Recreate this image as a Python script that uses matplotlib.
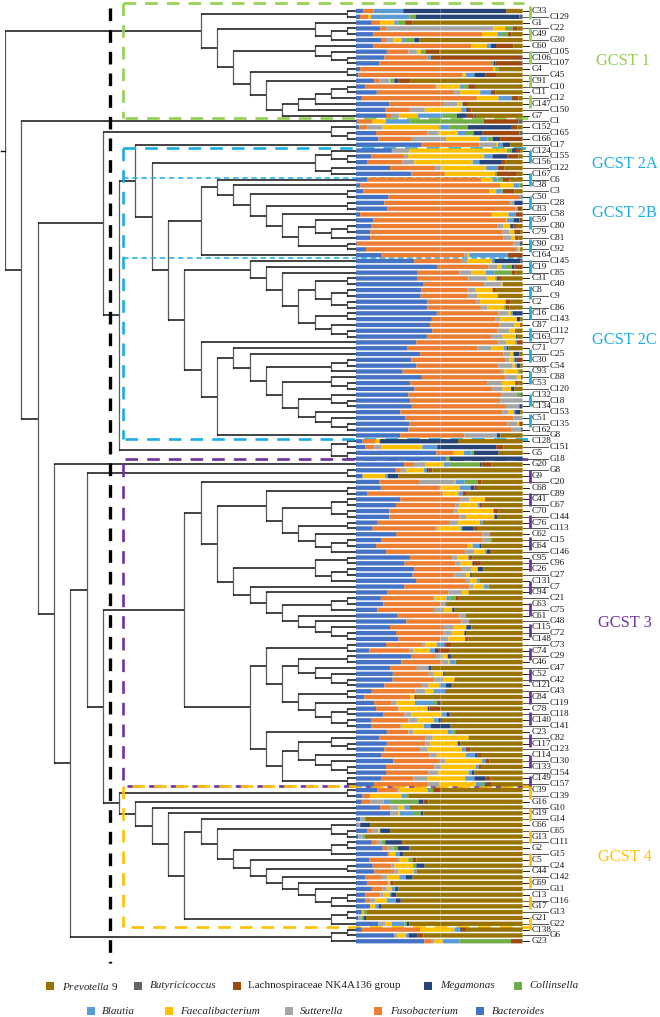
import numpy as np
import matplotlib
matplotlib.use('Agg')
import matplotlib.pyplot as plt

plt.rcParams['font.family'] = ['Liberation Serif', 'DejaVu Serif']
plt.rcParams['mathtext.fontset'] = 'custom'
plt.rcParams['mathtext.rm'] = 'Liberation Serif'
plt.rcParams['mathtext.it'] = 'Liberation Serif:italic'
plt.rcParams['lines.scale_dashes'] = False

taxa = ['Bacteroides', 'Fusobacterium', 'Sutterella', 'Faecalibacterium', 'Blautia',
        'Collinsella', 'Megamonas', 'Lachnospiraceae NK4A136 group', 'Butyricicoccus', 'Prevotella 9']
colors = ['#4472C4', '#ED7D31', '#A5A5A5', '#FFC000', '#5B9BD5',
          '#70AD47', '#264478', '#9E480E', '#636363', '#997300']

labels = """C33 C129 G1 C22 C49 G30 C60 C105 C106 C107 C4 C45 C91 C10 C11 C12 C147 C150 G7 C1 C152 C165 C166 C17
C124 C155 C156 C122 C167 C6 C38 C3 C50 C28 C83 C58 C59 C80 C79 C81 C90 C92 C164 C145 C19 C85 C31 C40 C8 C9 C2 C86
C16 C143 C87 C112 C163 C77 C71 C25 C30 C54 C93 C88 C53 C120 C132 C18 C134 C153 C51 C135 C162 G8 C128 C151 G5 G18
G20 G8 G9 C20 C68 C89 C41 C67 C70 C144 C76 C113 C62 C15 C64 C146 C95 C96 C26 C27 C131 C7 C94 C21 C63 C75 C61 C48
C115 C72 C148 C73 C74 C29 C46 C47 C52 C42 C121 C43 C84 C119 C78 C118 C140 C141 C23 C82 C117 C123 C114 C130 C133
C154 C149 C157 C39 C139 G16 G10 G19 G14 C66 C65 G13 C111 G2 G15 C5 C24 C44 C142 C69 G11 C13 C116 G17 G13 G21 G22
C138 G6 G23""".split()

# Columns follow the taxa list, top row to bottom row
rows_gcst1 = [
 [4.5,6,0,0,18,0,62,0,0,10],[2.4,5,0,1.6,23,3.6,62,0,2,0],[9.5,5,0,8.5,2,4.5,0,4.5,0,66],
 [14.5,3.5,64,7,0,4.5,0,3,0,3],[10.5,65.5,0,9.5,2,4,0,2,0,7],[15,3,4.5,5,2.5,5,3,0,0,62],
 [10.5,58.5,0,9.5,2.5,0,3,10.5,0,5.5],[18.5,13,5,2.5,0,3,0,8,0,50],[17,26,0,0,2,0,0,54,1,0],
 [14,67,0,0,0,1.5,1,16,.5,0],[2.5,80,0,1,0,2,0,0,0,14.5],[1.5,62.5,0,2,5,0,6.5,7,0,15.5],
 [11,3,6,.5,0,2.5,2.5,7,0,67.5],[5.5,42,1,13.5,2.5,2.5,0,4,0,28.5],[12.5,46.5,3.5,12,6.5,0,0,2.5,0,16.5],
 [3.5,69,0,13,8,0,0,4,0,2.5],[20,33,8,3,.5,0,0,3,0,33],[17.5,14.5,9.5,22,3,0,1,2,0,31],
 [18,3,5,11,15,8.5,6,4,1.5,28]]
rows_between1 = [
 [1,9,0,8,14.5,44,0,21,2.5,0],[2,5,9,34,6,11,26,4,0,3],[12,31,6.5,11.5,5,4.5,5.5,22,2,0],
 [13.5,19.5,21,20,5,3,4.5,12.5,1,0],[39,35,10,1,3,0,4.5,0,0,7.5]]
rows_gcst2a = [
 [21.5,0,10.5,58.5,0,3,2.5,2.5,0,1.5],[9,20,2,45.5,5,0,9,6.5,0,2.5],[7,21,7,35,4,0,13,2.5,0,10.5],
 [20.5,27,4,27,7,0,0,4,0,11],[33,20,0,30,0,1,0,12,0,3.5]]
rows_gcst2b = [
 [7,68,0,7,3,3,0,4,0,8],[2.5,84,0,8,3.5,1,0,0,0,1],[4.5,76,0,4,3,1,0,7,0,5],
 [19.5,79,0,0,1,0,0,0,.5,0],[17,75.5,2.5,0,0,0,5,0,0,0],[19,76.5,1.5,0,0,0,0,2.5,0,.5],
 [2.5,79,0,10,4.5,0,0,4,0,0],[10.5,79.5,0,.5,4,0,3.5,2,0,0],[9,76,3.5,4,0,0,2,2,0,3.5],
 [8.5,79.5,4,3,0,0,0,3.5,0,1.5],[8.5,80,4.5,2.5,0,0,0,2,0,2.5],[.5,94,4,0,0,0,1,.5,0,0],
 [6,90,1.5,1,0,0,0,0,0,1.5],[15,50,2,1,23,0,0,9,0,0]]
rows_gcst2c = [
 [35,28.5,3.5,14.5,1.5,0,15.5,0,1.5,0],[49,30.5,5.5,2.5,2,4,1.5,5,0,0],[37,25,7,9,5,10.5,0,2,0,4.5],
 [37,30.5,11,5,1,0,0,2.5,0,13],[40,36.5,10,1,0,0,0,0,0,12],[39,27.5,5,10,0,0,0,2,0,16],
 [39,28,6,12.5,0,0,0,0,0,15],[42.5,29.5,2,15,.5,0,0,2.5,0,7.5],[42.5,32,4,9.5,0,1.5,0,2,0,8],
 [48.5,37,6,1.5,1,0,6,0,0,0],[45.5,38,3,10,0,0,2,0,0,1.5],[44.5,41.5,9,3.5,0,0,0,1,0,.5],
 [45.5,39,7,3.5,0,0,0,1,0,3.5],[42.5,38.5,7,8,0,0,1,0,0,3],[36,49,4.5,5.5,1,0,0,3.5,0,0],
 [31,42,8,7.5,2,0,1,0,0,8.5],[38.5,50,4,2,0,0,3.5,0,0,2],[33,56,2.5,2.5,1,0,1,3.5,0,0],
 [36,49,8.5,1.5,1,0,2,0,0,1.5],[28,59,2,8,0,1.5,0,0,0,1.5],[39.5,50,7,2.5,0,0,0,0,1,0],
 [32.5,46.5,8.5,8,0,0,0,2,0,2.5],[35,47,6,5,0,0,2,0,0,5],[31.5,55.5,9.5,0,0,2.5,0,0,1,0],
 [32.5,54,13.5,0,0,0,0,0,0,0],[33.5,56.5,8,0,0,0,1.5,0,.5,0],[26.5,61,3.5,3,1,0,3,0,0,1.5],
 [29.5,65,5.5,0,0,0,0,0,0,0],[32,58.5,6,1,0,0,0,2,0,0],[31.5,61.5,6,0,0,0,0,0,1,0],
 [26.5,38.5,19.5,0,0,0,2,0,0,13.5]]
rows_between2 = [
 [4,7.5,.5,2,.5,0,47,0,0,39],[5.5,5.5,4.5,24.5,9,0,35.5,4.5,0,11.5],[48.5,10.5,0,6,4.5,1.5,15,0,0,14.5],
 [54,0,0,0,0,2,44,0,0,0],[29,6,7,11,3.5,18,1,6,0,19],[24,3,3.5,10.5,1.5,0,1,2.5,0,54.5],
 [4,0,0,13.5,1.5,0,6.5,0,0,74.5]]
rows_gcst3 = [
 [14,24,21.5,.5,5.5,8,0,2,0,25],[15,35,1.5,11,6.5,0,2.5,2,0,27],[7,45,.5,9,2.5,0,0,2.5,0,33.5],
 [26.5,36,5.5,9.5,0,0,0,1,0,21.5],[24,35.5,2.5,11,1,0,0,2,0,24],[20,39,2,21.5,0,0,0,3,0,14.5],
 [20,42,4,17,0,0,2,0,0,15],[13,43,5,13,1.5,0,0,0,0,24],[10,38,1,14,1,0,7,2.5,0,27],
 [24,52,4.5,0,0,0,0,.5,0,19],[15,61,4,0,0,1.5,0,0,0,18.5],[12,55,0,3,4,0,1,0,0,25],
 [18,47,5.5,6.5,1,0,2,1,0,18.5],[32.5,25.5,3,6.5,.5,0,0,2,0,30.5],[29,30.5,3,7,0,0,1,4,0,25],
 [35,28,6,4,0,0,3.5,0,0,23.5],[34,25,7,2.5,0,0,1,0,0,30.5],[36,30,2.5,4,1.5,0,0,0,0,26],
 [29,39,2.5,6,3,0,0,0,0,20.5],[19,36.5,8,4,0,0,0,0,0,32.5],[15,31.5,1,7,2,3.5,0,2,0,38.5],
 [16.5,34.5,2.5,0,.5,0,.5,0,0,46],[13,34,6,5,0,0,1.5,0,0,41],[25,37,4,0,0,0,0,0,0,34],
 [30,33,4.5,0,0,0,0,0,0,32],[20.5,32.5,6,7.5,0,0,3,0,0,31],[24,28.5,5,7.5,0,0,1,0,0,34],
 [25.5,25,5,10,0,0,0,2,0,32.5],[18,22,1.5,7,4.5,0,.5,4,0,42.5],[8,24,2,10,3,0,2,6.5,0,44],
 [33,15,4,3,0,0,2,0,0,43],[27,24,4,1,3.5,0,0,0,0,40],[20.5,16,7,0,0,0,1.5,0,0,55],
 [22,21.5,3,5.5,0,0,1,0,0,46.5],[22,25,5.5,6.5,0,0,0,0,0,41],[17,22.5,4,6.5,4,0,3,1,0,42],
 [9.5,26,6,5,7,0,0,1,0,45.5],[5,27.5,0,2.5,0,0,0,1.5,0,63.5],[11,10.5,3,11,11.5,2,1,1.5,0,49],
 [12,13.5,.5,17,0,0,1,6.5,0,49.5],[16.5,12.5,4,18,3,0,1.5,1,0,43],[9,22.5,5.5,9.5,3,0,2,0,0,48.5],
 [9,17.5,1,13,4,0,12,0,0,43],[18.5,13,3,20.5,3,1.5,0,0,0,40.5],[14,27.5,4.5,21.5,0,0,0,0,0,32.5],
 [18.5,23,3,16.5,0,0,1.5,0,0,37.5],[17,21.5,4.5,20.5,2.5,0,0,2.5,0,31.5],[15,29,4.5,17.5,5.5,0,1.5,2,0,25],
 [22.5,27.5,4,22,2,0,0,2.5,0,20],[18,29,4,21,1.5,0,0,2,0,24.5],[18,25.5,6,18,2,0,1.5,0,0,29],
 [15,19.5,8.5,22.5,5.5,0,6.5,3,0,19.5],[11,32.5,6.5,22,3.5,2,1,2.5,0,19]]
rows_gcst4 = [
 [13,12,1,17,1,2.5,0,5,0,49],[4,4.5,0,19,2.5,1.5,0,0,0,69],[3.5,5,8,0,4,17,3,3,0,56.5],
 [14.5,6,5,3.5,3,0,0,0,0,68],[20.5,0,5,1,8.5,4,1.5,0,0,60],[2.5,0,2.5,0,0,.5,0,0,0,94.5],
 [.5,0,2,0,0,0,6,0,0,91.5],[7,3,3.5,1,0,0,6,0,0,79.5],[1.5,0,2,0,.5,1.5,0,0,0,95],
 [9.5,3,3,0,0,2,10,1,0,71.5],[16,3,3.5,0,0,2.5,7,0,0,68],[19,1,0,3.5,2.5,0,2,0,0,71.5],
 [8,17.5,1,5,0,2.5,0,2.5,0,64],[10,11,2,11,0,2,5,0,0,58.5],[11,12,2.5,9.5,1.5,0,0,0,0,64],
 [5.5,9.5,4,7,4,0,4,0,0,66],[6.5,12,1,1,0,0,0,2,0,77],[9.5,6.5,2.5,3,2,0,2,0,0,74.5],
 [5.5,9,2,3.5,1,0,3,0,0,75.5],[5.5,3,3,7,5.5,0,3,0,0,73.5],[8.5,0,0,3,2,0,1.5,0,0,85],
 [3.5,0,0,1,0,2,0,0,0,93.5],[1.5,0,2,0,0,1,1.5,0,0,94],[13.5,0,4,4,7.5,1.5,1.5,0,0,68]]
rows_outgroup = [
 [3.5,35,0,20.5,3,.5,1,2.5,0,34],[23,0,2,5,1.5,0,5.5,3.5,0,59.5],[41,4,2,5,10,31,0,6,1,0]]

# Dendrogram: (merge level, upper child, lower child); integers are row numbers
gcst1_tree = (12,(21,1,2),(13,(19,3,(20,(21,4,5),6)),(14,(19,7,(20,8,(21,9,10))),
              (15,(21,11,12),(16,13,(17,(18,(19,(20,(21,14,15),16),17),18),19))))))
small_tree = (20,21,(21,22,23))
gcst2a_tree = (19,(20,25,(21,26,27)),(20,28,29))
gcst2b_tree = (12,(13,30,(14,31,(15,(21,32,33),(16,(21,34,35),(17,36,(18,(19,37,(20,(21,38,39),40)),(21,41,42))))))),43)
gcst2c_up = (15,44,(16,45,(17,46,(18,(19,(21,47,48),(20,(21,49,50),(21,51,52))),(19,(21,53,54),(20,55,(21,56,57)))))))
gcst2c_lo = (12,58,(13,(14,59,(15,60,(16,(20,(21,61,62),63),(17,(20,64,(21,65,66)),
             (18,(20,67,(21,68,69)),(19,70,(20,71,(21,72,73)))))))),74))
gcst2_tree = (8,24,(9,gcst2a_tree,(10,gcst2b_tree,(11,gcst2c_up,gcst2c_lo))))
upper_tree = (6,small_tree,(7,gcst2_tree,(20,(21,75,76),(21,77,78))))
gcst3_up = (12,82,(13,(16,(21,83,84),(17,(20,(21,85,86),(21,87,88)),(18,(21,89,90),(19,91,(20,(21,92,93),94))))),
            (14,(19,(21,95,96),(20,(21,97,98),99)),(15,100,(16,101,(17,(20,(21,102,103),104),
            (18,105,(19,106,(20,107,(21,108,109))))))))))
gcst3_lo = (15,(16,(21,110,111),(17,(18,(21,112,113),(19,114,(20,115,(21,116,117)))),
            (18,(21,118,119),(19,120,(20,(21,121,122),(21,123,124)))))),
            (16,125,(17,(18,(20,126,(21,127,128)),(19,129,(20,130,(21,131,132)))),(21,133,134))))
gcst3_tree = (11,gcst3_up,gcst3_lo)
gcst4_tree = (7,(21,135,136),(8,137,(9,138,(10,139,(11,(12,140,(13,(20,141,(21,142,143)),
             (14,(20,(21,144,145),146),(15,147,(16,(21,148,149),(17,150,(18,151,(19,152,(20,(21,153,154),155))))))))),
             (20,(21,156,157),158))))))
lower_tree = (3,79,(4,(5,(21,80,81),(6,gcst3_tree,gcst4_tree)),(20,(21,159,160),161)))
root_tree = (0,gcst1_tree,(1,20,(2,upper_tree,lower_tree)))

# Coloured cluster marks beside the labels, centred on these row positions
marks_green = [1.2, 5, 9, 13, 16.5]
marks_blue = [26, 30, 34, 37.4, 41.4, 45, 49.4, 52.8, 56.7, 60.2, 64, 67.9, 71.5]
marks_purple = [81, 85, 88.8, 92.6, 96.3, 100.1, 103.9, 107.6, 111.6, 115.3, 119.1, 122.7, 126.5, 130.1, 133.7]
marks_yellow = [135.4, 139.2, 143, 146.9, 150.8, 154.3, 157.9]

GREEN, BLUE, PURPLE, GOLD = '#92D050', '#1CADE4', '#7030A0', '#FFC000'

W, H = 660, 1017
values = np.array(rows_gcst1 + rows_between1 + rows_gcst2a + rows_gcst2b + rows_gcst2c +
                  rows_between2 + rows_gcst3 + rows_gcst4 + rows_outgroup, dtype=float)
values = values / values.sum(axis=1, keepdims=True) * 100
n = len(values)
row_pos = np.arange(1, n + 1)

Y0, DY = 11.0, 5.814
ylim_rows = (1 + (H - Y0) / DY, 1 - Y0 / DY)
X_TREE0, DX, X_LEAF, X_BAR1 = 5.0, 16.3, 356.0, 522.7

fig = plt.figure(figsize=(W / 100, H / 100), dpi=100, facecolor='white')

def make_ax(x0, x1, z):
    ax = fig.add_axes([x0 / W, 0, (x1 - x0) / W, 1], zorder=z)
    ax.axis('off')
    ax.patch.set_alpha(0)
    return ax

# Tree
ax_tree = make_ax(X_TREE0, X_LEAF, 1)
ax_tree.set_xlim(0, (X_LEAF - X_TREE0) / DX)
ax_tree.set_ylim(*ylim_rows)
LEAF = (X_LEAF - X_TREE0) / DX

def draw(node):
    if isinstance(node, int):
        return node, LEAF
    d, a, b = node
    ya, xa = draw(a)
    yb, xb = draw(b)
    ax_tree.plot([d, d], [ya, yb], color='#5a5a5a', lw=0.9, solid_capstyle='projecting')
    ax_tree.plot([d, xa], [ya, ya], color='#101010', lw=1.1, solid_capstyle='butt')
    ax_tree.plot([d, xb], [yb, yb], color='#101010', lw=1.1, solid_capstyle='butt')
    return (ya + yb) / 2, d

root_y, _ = draw(root_tree)
ax_tree.plot([-0.25, 0], [root_y, root_y], color='#101010', lw=1.0, clip_on=False)

# Dashed overlays in figure pixels
ax_box = make_ax(0, W, 2)
ax_box.set_xlim(0, W)
ax_box.set_ylim(H, 0)
dash = (0, (9.1, 6.5))
thin = (0, (4.0, 2.6))
def dl(xs, ys, c, lw=1.9, ls=dash):
    ax_box.plot(xs, ys, color=c, lw=lw, ls=ls, dash_capstyle='butt')

dl([110, 110], [8, 963], 'black', lw=2.4)
dl([122.7, 524], [3, 3], GREEN)
dl([122.7, 122.7], [3, 118], GREEN)
dl([125, 531], [118, 118], GREEN)
dl([122.7, 531], [147.7, 147.7], BLUE)
dl([122.7, 122.7], [147.7, 439.3], BLUE)
dl([125, 531], [439.3, 439.3], BLUE)
dl([122.7, 522], [177.7, 177.7], BLUE, lw=1.1, ls=thin)
dl([122.7, 522], [257.7, 257.7], BLUE, lw=1.1, ls=thin)
dl([125, 531], [459, 459], PURPLE)
dl([122.7, 122.7], [464, 786], PURPLE)
dl([127, 531], [786, 786], PURPLE)
dl([132, 531], [786, 786], GOLD)
dl([122.7, 122.7], [786, 926.7], GOLD)
dl([131, 531], [926.7, 926.7], GOLD)

# Stacked bars
ax_bar = make_ax(X_LEAF, X_BAR1, 3)
ax_bar.set_xlim(0, 100)
ax_bar.set_ylim(*ylim_rows)
left = np.zeros(n)
for j, (name, col) in enumerate(zip(taxa, colors)):
    bars = ax_bar.barh(row_pos, values[:, j], left=left, height=0.74, color=col, linewidth=0)
    for b in bars:
        b.set_snap(False)
    left += values[:, j]
ax_bar.axvline(50.4, color='white', lw=0.5, alpha=0.35)

# Row labels, ticks, cluster marks
ax_lab = make_ax(X_BAR1, W, 4)
ax_lab.set_xlim(X_BAR1, W)
ax_lab.set_ylim(*ylim_rows)
for i, lab in zip(row_pos, labels):
    if i % 2:
        ax_lab.plot([X_BAR1, 529], [i, i], color='#222222', lw=0.7)
        ax_lab.text(532, i, lab, fontsize=6.6, va='center', ha='left', color='#111111')
    else:
        ax_lab.plot([X_BAR1, 548], [i, i], color='#555555', lw=0.7)
        ax_lab.text(550, i, lab, fontsize=6.6, va='center', ha='left', color='#111111')
for marks, col in [(marks_green, GREEN), (marks_blue, BLUE), (marks_purple, PURPLE), (marks_yellow, GOLD)]:
    for m in marks:
        ax_lab.plot([529.5, 529.5], [m - 1.1, m + 1.1], color=col, lw=2.0, solid_capstyle='butt')

# Cluster titles and legend in figure pixels
ax_txt = make_ax(0, W, 5)
ax_txt.set_xlim(0, W)
ax_txt.set_ylim(H, 0)
for t, x, y, c in [('GCST 1', 596, 61, GREEN), ('GCST 2A', 592, 163.5, BLUE), ('GCST 2B', 592, 213, BLUE),
                   ('GCST 2C', 592, 340, BLUE), ('GCST 3', 598, 623, PURPLE), ('GCST 4', 598, 857, GOLD)]:
    ax_txt.text(x, y, t, color=c, fontsize=11.8, va='center', ha='left')

legend_row1 = [(9, r'$\mathit{Prevotella}$ 9', 49.7, 61.7), (8, 'Butyricicoccus', 138, 150),
               (7, 'Lachnospiraceae NK4A136 group', 237, 248), (6, 'Megamonas', 428.3, 440), (5, 'Collinsella', 517.7, 529.3)]
legend_row2 = [(4, 'Blautia', 91.3, 102.3), (3, 'Faecalibacterium', 169.3, 180.3), (2, 'Sutterella', 289.3, 300),
               (1, 'Fusobacterium', 378.3, 390), (0, 'Bacteroides', 480, 491.7)]
for row, y in [(legend_row1, 986), (legend_row2, 1011)]:
    for j, t, xm, xt in row:
        ax_txt.plot([xm], [y], marker='s', ms=5.8, color=colors[j], mew=0, ls='none')
        style = 'normal' if j in (7, 9) else 'italic'
        ax_txt.text(xt, y, t, fontsize=8.0, style=style, va='center', ha='left', color='#222222')

fig.savefig('out.png', dpi=100, facecolor='white')
